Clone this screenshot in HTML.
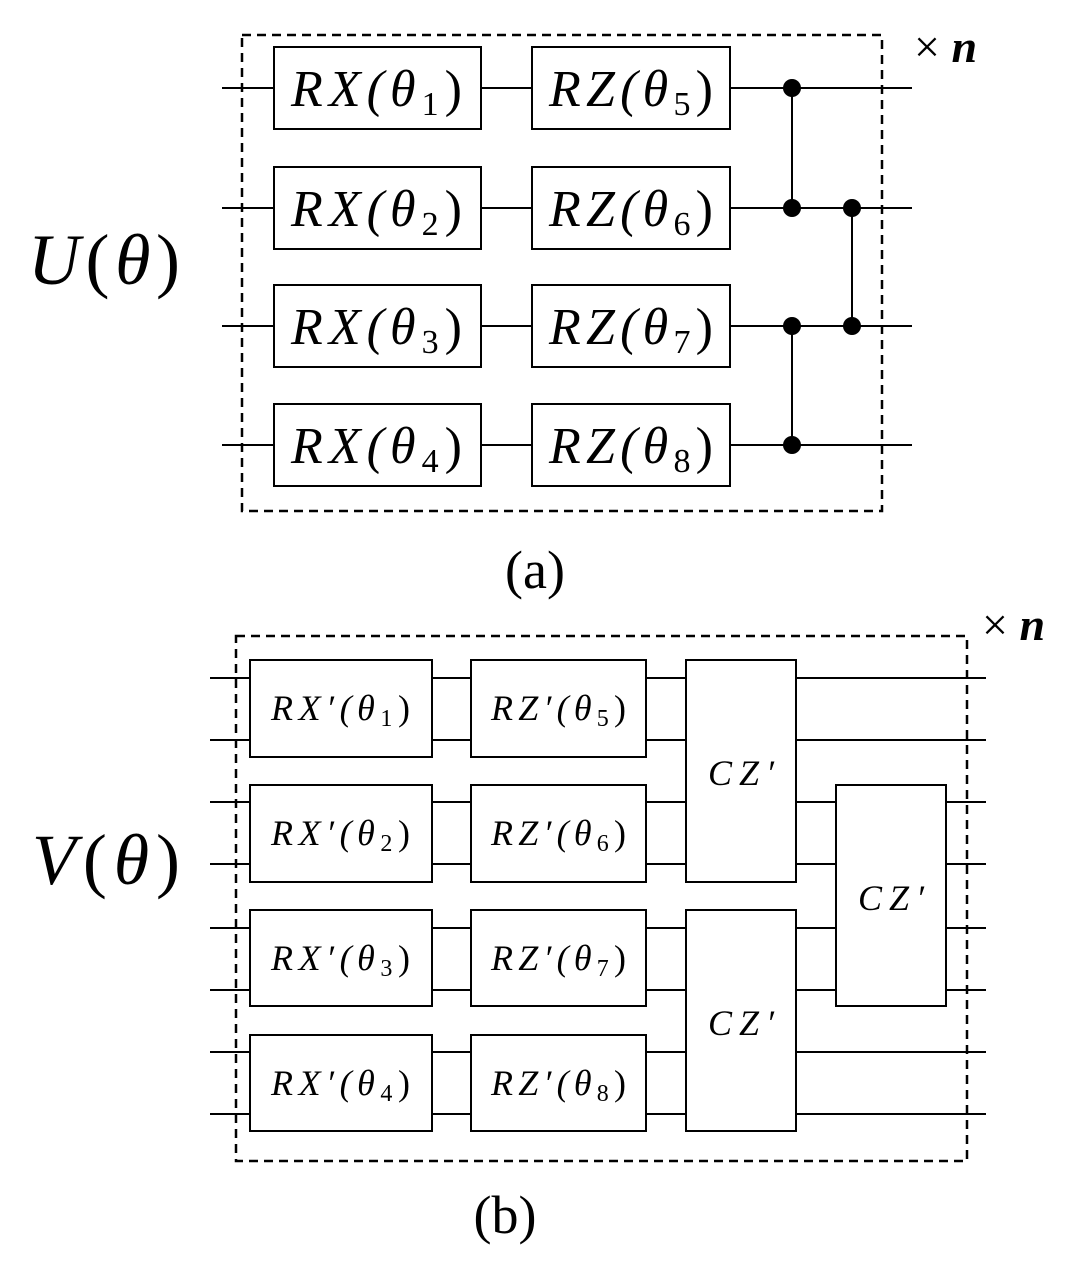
<!DOCTYPE html>
<html><head><meta charset="utf-8"><style>
html,body{margin:0;padding:0;background:#fff}
svg{display:block}
.m{font-family:"Liberation Serif",serif;font-style:italic;fill:#000}
.s{font-family:"Liberation Serif",serif;font-style:normal}
</style></head><body>
<svg width="1087" height="1273" viewBox="0 0 1087 1273" xmlns="http://www.w3.org/2000/svg">
<g stroke="#000" stroke-width="2" fill="none">
<line x1="222" y1="88" x2="912" y2="88"/>
<line x1="222" y1="208" x2="912" y2="208"/>
<line x1="222" y1="326" x2="912" y2="326"/>
<line x1="222" y1="445" x2="912" y2="445"/>
<rect x="242" y="35" width="640" height="476" stroke-dasharray="9,6" stroke-width="2.5"/>
<g fill="#fff">
<rect x="274" y="47" width="207" height="82"/><rect x="532" y="47" width="198" height="82"/>
<rect x="274" y="167" width="207" height="82"/><rect x="532" y="167" width="198" height="82"/>
<rect x="274" y="285" width="207" height="82"/><rect x="532" y="285" width="198" height="82"/>
<rect x="274" y="404" width="207" height="82"/><rect x="532" y="404" width="198" height="82"/>
</g>
<line x1="792" y1="88" x2="792" y2="208"/>
<line x1="792" y1="326" x2="792" y2="445"/>
<line x1="852" y1="208" x2="852" y2="326"/>
</g>
<g fill="#000">
<circle cx="792" cy="88" r="9"/><circle cx="792" cy="208" r="9"/>
<circle cx="792" cy="326" r="9"/><circle cx="792" cy="445" r="9"/>
<circle cx="852" cy="208" r="9"/><circle cx="852" cy="326" r="9"/>
</g>
<g class="m" font-size="52">
<text x="291" y="106" textLength="171">RX(θ<tspan class="s" font-size="34" dy="9">1</tspan><tspan dy="-9" class="s">)</tspan></text>
<text x="549" y="106" textLength="164">RZ(θ<tspan class="s" font-size="34" dy="9">5</tspan><tspan dy="-9" class="s">)</tspan></text>
<text x="291" y="226" textLength="171">RX(θ<tspan class="s" font-size="34" dy="9">2</tspan><tspan dy="-9" class="s">)</tspan></text>
<text x="549" y="226" textLength="164">RZ(θ<tspan class="s" font-size="34" dy="9">6</tspan><tspan dy="-9" class="s">)</tspan></text>
<text x="291" y="344" textLength="171">RX(θ<tspan class="s" font-size="34" dy="9">3</tspan><tspan dy="-9" class="s">)</tspan></text>
<text x="549" y="344" textLength="164">RZ(θ<tspan class="s" font-size="34" dy="9">7</tspan><tspan dy="-9" class="s">)</tspan></text>
<text x="291" y="463" textLength="171">RX(θ<tspan class="s" font-size="34" dy="9">4</tspan><tspan dy="-9" class="s">)</tspan></text>
<text x="549" y="463" textLength="164">RZ(θ<tspan class="s" font-size="34" dy="9">8</tspan><tspan dy="-9" class="s">)</tspan></text>
</g>
<text x="28" y="284" textLength="152" font-family="Liberation Serif,serif" font-style="italic" font-size="72">U<tspan font-style="normal">(</tspan>θ<tspan font-style="normal">)</tspan></text>
<text x="914" y="62" font-family="Liberation Serif,serif" font-size="46">× <tspan font-weight="bold" font-style="italic">n</tspan></text>
<text x="535" y="588" text-anchor="middle" font-family="Liberation Serif,serif" font-size="54">(a)</text>

<g stroke="#000" stroke-width="2" fill="none">
<line x1="210" y1="678" x2="986" y2="678"/><line x1="210" y1="740" x2="986" y2="740"/>
<line x1="210" y1="802" x2="986" y2="802"/><line x1="210" y1="864" x2="986" y2="864"/>
<line x1="210" y1="928" x2="986" y2="928"/><line x1="210" y1="990" x2="986" y2="990"/>
<line x1="210" y1="1052" x2="986" y2="1052"/><line x1="210" y1="1114" x2="986" y2="1114"/>
<rect x="236" y="636" width="731" height="525" stroke-dasharray="9,6" stroke-width="2.5"/>
<g fill="#fff">
<rect x="250" y="660" width="182" height="97"/><rect x="471" y="660" width="175" height="97"/>
<rect x="250" y="785" width="182" height="97"/><rect x="471" y="785" width="175" height="97"/>
<rect x="250" y="910" width="182" height="96"/><rect x="471" y="910" width="175" height="96"/>
<rect x="250" y="1035" width="182" height="96"/><rect x="471" y="1035" width="175" height="96"/>
<rect x="686" y="660" width="110" height="222"/>
<rect x="686" y="910" width="110" height="221"/>
<rect x="836" y="785" width="110" height="221"/>
</g>
</g>
<g class="m" font-size="36">
<text x="271" y="720" textLength="139">RX′(θ<tspan class="s" font-size="24" dy="6">1</tspan><tspan dy="-6" class="s">)</tspan></text>
<text x="491" y="720" textLength="135">RZ′(θ<tspan class="s" font-size="24" dy="6">5</tspan><tspan dy="-6" class="s">)</tspan></text>
<text x="271" y="845" textLength="139">RX′(θ<tspan class="s" font-size="24" dy="6">2</tspan><tspan dy="-6" class="s">)</tspan></text>
<text x="491" y="845" textLength="135">RZ′(θ<tspan class="s" font-size="24" dy="6">6</tspan><tspan dy="-6" class="s">)</tspan></text>
<text x="271" y="970" textLength="139">RX′(θ<tspan class="s" font-size="24" dy="6">3</tspan><tspan dy="-6" class="s">)</tspan></text>
<text x="491" y="970" textLength="135">RZ′(θ<tspan class="s" font-size="24" dy="6">7</tspan><tspan dy="-6" class="s">)</tspan></text>
<text x="271" y="1095" textLength="139">RX′(θ<tspan class="s" font-size="24" dy="6">4</tspan><tspan dy="-6" class="s">)</tspan></text>
<text x="491" y="1095" textLength="135">RZ′(θ<tspan class="s" font-size="24" dy="6">8</tspan><tspan dy="-6" class="s">)</tspan></text>
<text x="708" y="785" textLength="66">CZ′</text>
<text x="708" y="1035" textLength="66">CZ′</text>
<text x="858" y="910" textLength="66">CZ′</text>
</g>
<text x="32" y="884" textLength="148" font-family="Liberation Serif,serif" font-style="italic" font-size="72">V<tspan font-style="normal">(</tspan>θ<tspan font-style="normal">)</tspan></text>
<text x="982" y="640" font-family="Liberation Serif,serif" font-size="46">× <tspan font-weight="bold" font-style="italic">n</tspan></text>
<text x="505" y="1233" text-anchor="middle" font-family="Liberation Serif,serif" font-size="54">(b)</text>
</svg>
</body></html>
